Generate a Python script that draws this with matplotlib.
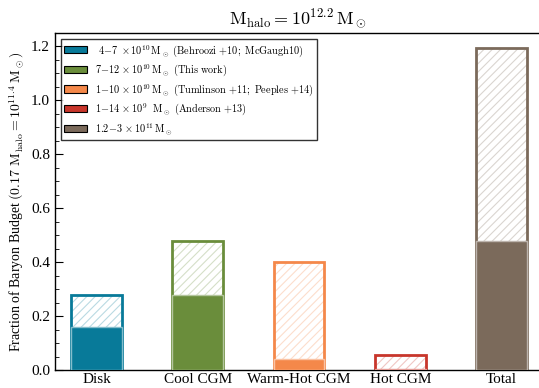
import matplotlib
matplotlib.use("Agg")
import matplotlib.pyplot as plt
from matplotlib.ticker import MultipleLocator
from matplotlib.patches import Patch
from matplotlib.colors import to_rgb

plt.rcParams['font.family'] = ['Liberation Serif', 'DejaVu Serif']
plt.rcParams['mathtext.fontset'] = 'cm'
plt.rcParams['hatch.linewidth'] = 0.8

categories = ['Disk', 'Cool CGM', 'Warm-Hot CGM', 'Hot CGM', 'Total']
lower = [0.16, 0.28, 0.04, 0.004, 0.48]
upper = [0.28, 0.48, 0.40, 0.056, 1.195]
colors = ['#087a99', '#6a8d3b', '#f4884a', '#c8362b', '#7b6a5b']
labels = [
    r'$\mathrm{\ 4{-}7\ \times10^{10}\,M_\odot\ (Behroozi\ {+}10;\ McGaugh10)}$',
    r'$\mathrm{7{-}12\,\times10^{10}\,M_\odot\ (This\ work)}$',
    r'$\mathrm{1{-}10\,\times10^{10}\,M_\odot\ (Tumlinson\ {+}11;\ Peeples\ {+}14)}$',
    r'$\mathrm{1{-}14\,\times10^{9}\ \ M_\odot\ (Anderson\ {+}13)}$',
    r'$\mathrm{1.2{-}3\,\times10^{11}\,M_\odot}$',
]

def lighten(c, f=0.72):
    r, g, b = to_rgb(c)
    return (r + (1 - r) * f, g + (1 - g) * f, b + (1 - b) * f)

fig = plt.figure(figsize=(5.39, 3.88), dpi=100)
ax = fig.add_axes([55/539, 18/388, 486/539, 337/388])

x = list(range(len(categories)))
w = 0.5
for i in x:
    # hatched range
    ax.bar(i, upper[i], width=w, color='white', edgecolor=lighten(colors[i]),
           hatch='////', linewidth=0, zorder=1)
    ax.bar(i, upper[i], width=w, fill=False, edgecolor=colors[i],
           linewidth=2, zorder=2)
    # solid lower value
    ax.bar(i, lower[i], width=w, color=colors[i], edgecolor=lighten(colors[i], 0.5),
           linewidth=1, zorder=3)

ax.set_xlim(-0.41, 4.39)
ax.set_ylim(0, 1.25)
ax.set_xticks(x)
ax.set_xticklabels(categories, fontsize=11)
ax.tick_params(axis='x', length=0, pad=2)
ax.yaxis.set_major_locator(MultipleLocator(0.2))
ax.yaxis.set_minor_locator(MultipleLocator(0.05))
ax.tick_params(axis='y', which='major', direction='in', length=6, labelsize=11, right=False)
ax.tick_params(axis='y', which='minor', direction='in', length=3, right=False)
ax.yaxis.set_major_formatter(matplotlib.ticker.FormatStrFormatter('%.1f'))
ax.spines['right'].set_visible(False)
for s in ['left', 'bottom', 'top']:
    ax.spines[s].set_linewidth(1.0)

ax.set_ylabel(r'Fraction of Baryon Budget $(0.17\ \mathrm{M_{halo}}=10^{11.4}\,\mathrm{M_\odot})$',
              fontsize=10, labelpad=4)
ax.set_title(r'$\mathrm{M_{halo}=10^{12.2}\,M_\odot}$', fontsize=13, pad=7)

handles = [Patch(facecolor=c, edgecolor='black', linewidth=0.8) for c in colors]
leg = ax.legend(handles, labels, loc='upper left', fontsize=7.4, frameon=True,
                fancybox=False, edgecolor='black', handlelength=2.2, handleheight=0.7,
                handletextpad=0.8, borderpad=0.35, labelspacing=0.35, borderaxespad=0,
                bbox_to_anchor=(0.012, 0.982))
leg.get_frame().set_linewidth(1.0)

fig.savefig('out.png', dpi=100)
